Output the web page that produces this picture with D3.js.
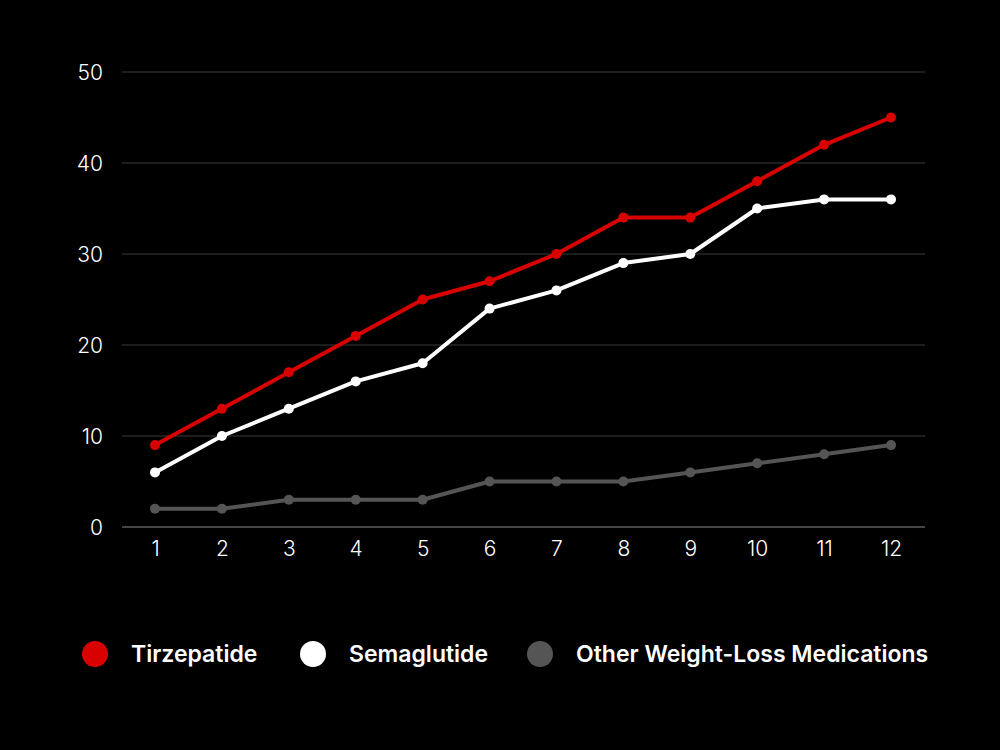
<!DOCTYPE html>
<html><head><meta charset="utf-8">
<script src="https://cdn.jsdelivr.net/npm/d3@7"></script>
<style>html,body{margin:0;padding:0;background:#000;}svg{display:block;}</style>
</head><body>
<svg id="c" width="1000" height="750"></svg>
<script>
const months = [1,2,3,4,5,6,7,8,9,10,11,12];
const tirzepatide = [9,13,17,21,25,27,30,34,34,38,42,45];
const semaglutide = [6,10,13,16,18,24,26,29,30,35,36,36];
const otherMeds = [2,2,3,3,3,5,5,5,6,7,8,9];
const yTicks = [0,10,20,30,40,50];
const seriesNames = ["Tirzepatide","Semaglutide","Other Weight-Loss Medications"];
const seriesColors = ["#d90000","#ffffff","#555555"];

const svg = d3.select("#c");
svg.append("rect").attr("width",1000).attr("height",750).attr("fill","#000");

const x = d3.scaleLinear().domain([1,12]).range([155,891]);
const y = d3.scaleLinear().domain([0,50]).range([527,72]);
const gridL = 122, gridR = 925;

const g = svg.append("g");
g.selectAll("line.grid").data(yTicks).join("line")
  .attr("x1",gridL).attr("x2",gridR)
  .attr("y1",d=>y(d)).attr("y2",d=>y(d))
  .attr("stroke",d=>d===0?"#8a8a8a":"#3a3a3a").attr("stroke-width",1);

const yAxis = d3.axisLeft(y).tickValues(yTicks).tickSize(0).tickPadding(0);
const ya = svg.append("g").attr("transform","translate(103,0)").call(yAxis);
ya.select(".domain").remove();
ya.selectAll("text").attr("fill","#fff").attr("font-family","Inter, 'Open Sans', sans-serif")
  .attr("font-size",21).attr("font-weight",300).attr("dy","0.35em");

const xAxis = d3.axisBottom(x).tickValues(months).tickSize(0).tickPadding(0);
const xa = svg.append("g").attr("transform","translate(0,539)").call(xAxis);
xa.select(".domain").remove();
xa.selectAll("text").attr("fill","#fff").attr("font-family","Inter, 'Open Sans', sans-serif")
  .attr("font-size",21).attr("font-weight",300).attr("dy","0.8em");

const all = [tirzepatide, semaglutide, otherMeds];
const line = d3.line().x((d,i)=>x(months[i])).y(d=>y(d));
[2,1,0].forEach(k=>{
  const data = all[k];
  svg.append("path").datum(data).attr("d",line).attr("fill","none")
    .attr("stroke",seriesColors[k]).attr("stroke-width",4).attr("stroke-linejoin","round");
  svg.append("g").selectAll("circle").data(data).join("circle")
    .attr("cx",(d,i)=>x(months[i])).attr("cy",d=>y(d)).attr("r",5)
    .attr("fill",seriesColors[k]);
});

const legX = [95,313,540];
const lg = svg.append("g");
seriesNames.forEach((n,i)=>{
  lg.append("circle").attr("cx",legX[i]).attr("cy",654).attr("r",13).attr("fill",seriesColors[i]);
  lg.append("text").attr("x",legX[i]+36).attr("y",662).text(n)
    .attr("fill","#fff").attr("font-family","Inter, 'Open Sans', sans-serif")
    .attr("font-size",23).attr("font-weight",600);
});
</script>
</body></html>
